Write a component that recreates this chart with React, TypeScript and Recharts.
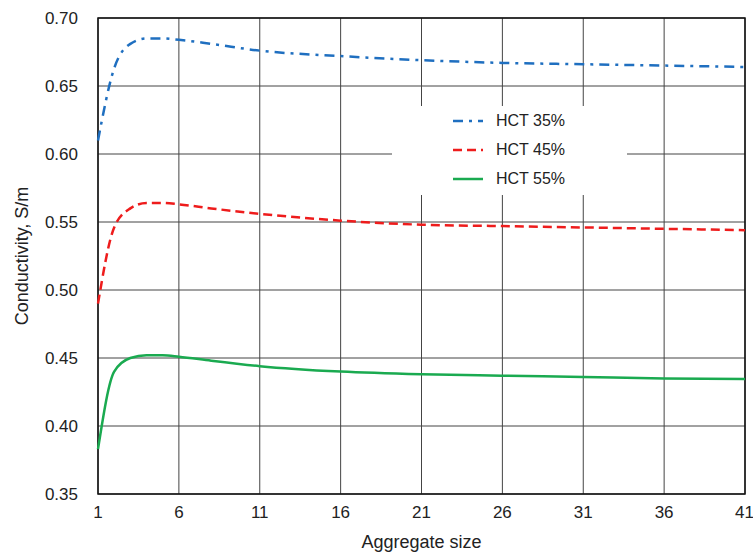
import React from 'react';
import { LineChart, Line, XAxis, YAxis, CartesianGrid, Legend, ReferenceArea } from 'recharts';

const sizes = [1, 2, 3, 4, 5, 6, 8, 11, 16, 21, 26, 31, 36, 41];
const hct35 = [0.61, 0.663, 0.681, 0.685, 0.685, 0.684, 0.681, 0.676, 0.672, 0.669, 0.667, 0.666, 0.665, 0.664];
const hct45 = [0.49, 0.546, 0.56, 0.564, 0.564, 0.563, 0.56, 0.556, 0.551, 0.548, 0.547, 0.546, 0.545, 0.544];
const hct55 = [0.383, 0.44, 0.45, 0.452, 0.452, 0.451, 0.448, 0.444, 0.44, 0.438, 0.437, 0.436, 0.435, 0.4345];
const xTicks = [1, 6, 11, 16, 21, 26, 31, 36, 41];
const yTicks = [0.35, 0.4, 0.45, 0.5, 0.55, 0.6, 0.65, 0.7];

const data = sizes.map((s, i) => ({ size: s, h35: hct35[i], h45: hct45[i], h55: hct55[i] }));

const series = [
  { key: 'h35', name: 'HCT 35%', color: '#1f6fc0', dash: '10 6 3 6' },
  { key: 'h45', name: 'HCT 45%', color: '#ee1c1c', dash: '9 5' },
  { key: 'h55', name: 'HCT 55%', color: '#1aaa50', dash: undefined as string | undefined },
];

const font = '"Liberation Sans", Arial, sans-serif';

const LegendBox = () => (
  <div style={{ position: 'relative', background: '#fff', width: 235, height: 89, fontFamily: font, fontSize: 16, color: '#222' }}>
    {series.map((s, i) => (
      <div key={s.key} style={{ position: 'absolute', left: 61, top: 6 + i * 29, height: 18, display: 'flex', alignItems: 'center' }}>
        <svg width={30} height={6} style={{ marginRight: 13 }}>
          <line x1={0} y1={3} x2={30} y2={3} stroke={s.color} strokeWidth={2.5} strokeDasharray={s.dash} />
        </svg>
        <span>{s.name}</span>
      </div>
    ))}
  </div>
);

export default function App() {
  return (
    <div style={{ position: 'absolute', left: 0, top: 0, background: '#fff' }}>
      <LineChart width={753} height={554} data={data} margin={{ top: 18, right: 8, bottom: 0, left: 0 }}>
        <CartesianGrid stroke="#444" strokeWidth={1} />
        <XAxis
          type="number"
          dataKey="size"
          domain={[1, 41]}
          ticks={xTicks}
          height={60}
          axisLine={false}
          tickLine={false}
          tick={{ fill: '#222', fontSize: 17, fontFamily: font }}
          dy={4}
          label={{ value: 'Aggregate size', position: 'insideBottom', offset: 6, fill: '#222', fontSize: 18, fontFamily: font }}
        />
        <YAxis
          domain={[0.35, 0.7]}
          ticks={yTicks}
          axisLine={false}
          tickLine={false}
          width={98}
          tick={{ fill: '#222', fontSize: 17, fontFamily: font }}
          dx={-12}
          tickFormatter={(v: number) => v.toFixed(2)}
          label={{ value: 'Conductivity, S/m', angle: -90, position: 'insideLeft', offset: 22, fill: '#222', fontSize: 18, fontFamily: font, style: { textAnchor: 'middle' } }}
        />
        <ReferenceArea x1={1} x2={41} y1={0.35} y2={0.7} fill="none" stroke="#111" strokeWidth={1.5} ifOverflow="visible" />
        {series.map((s) => (
          <Line
            key={s.key}
            type="monotone"
            dataKey={s.key}
            name={s.name}
            stroke={s.color}
            strokeWidth={2.5}
            strokeDasharray={s.dash}
            dot={false}
            isAnimationActive={false}
          />
        ))}
        <Legend
          layout="vertical"
          align="center"
          verticalAlign="middle"
          content={<LegendBox />}
          wrapperStyle={{ left: 392, top: 106, width: 235, height: 89 }}
        />
      </LineChart>
    </div>
  );
}
